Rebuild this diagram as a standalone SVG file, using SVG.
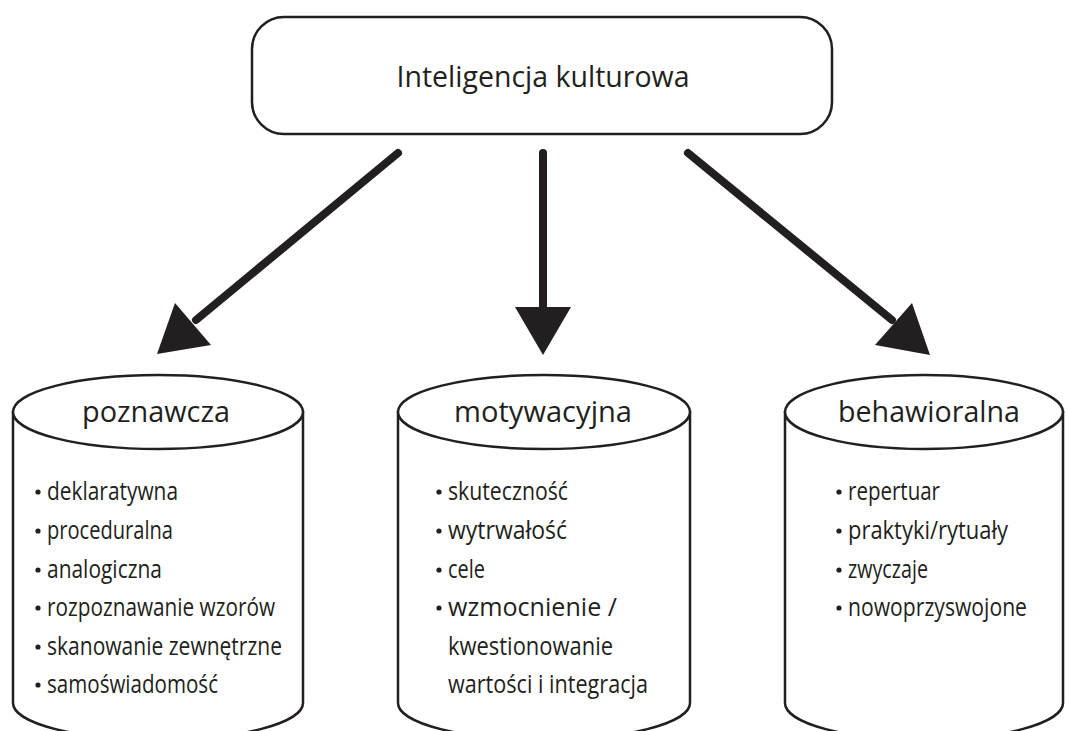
<svg xmlns="http://www.w3.org/2000/svg" width="1066" height="731" viewBox="0 0 1066 731">
  <style>
    .shape { fill: #ffffff; stroke: #231f20; stroke-width: 2.5; }
    .title { font-family: "Open Sans", "Noto Sans", "Liberation Sans", sans-serif; font-size: 30px; fill: #231f20; text-anchor: middle; }
    .item { font-family: "Open Sans", "Noto Sans", "Liberation Sans", sans-serif; font-size: 25px; fill: #231f20; }
    .dot { fill: #231f20; }
    .shaft { stroke: #231f20; stroke-width: 8; stroke-linecap: round; fill: none; }
    .head { fill: #231f20; }
  </style>
  <rect width="1066" height="731" fill="#ffffff"/>

  <!-- root box -->
  <g id="root">
    <rect class="shape" x="252" y="17" width="580" height="117" rx="32" ry="32"/>
    <text class="title" x="543" y="87" font-size="31" textLength="293" lengthAdjust="spacingAndGlyphs">Inteligencja kulturowa</text>
  </g>

  <!-- connectors -->
  <g id="connectors">
    <line class="shaft" x1="398" y1="153" x2="196" y2="320"/>
    <polygon class="head" points="157,354 175,303 211,345"/>
    <line class="shaft" x1="543" y1="153" x2="543" y2="310"/>
    <polygon class="head" points="515,307 571,307 543,355"/>
    <line class="shaft" x1="688" y1="153" x2="892" y2="320"/>
    <polygon class="head" points="912,303 875,345 930,355"/>
  </g>

  <!-- cognitive -->
  <g id="poznawcza">
    <path class="shape" d="M13,412 L13,703 A145,37 0 0 0 303,703 L303,412 Z"/>
    <ellipse class="shape" cx="158" cy="412" rx="145" ry="37"/>
    <text class="title" x="156" y="422" textLength="148" lengthAdjust="spacingAndGlyphs">poznawcza</text>
    <g class="item">
      <circle class="dot" cx="38" cy="492" r="2.6"/>
      <text x="47" y="500" textLength="131" lengthAdjust="spacingAndGlyphs">deklaratywna</text>
      <circle class="dot" cx="38" cy="531" r="2.6"/>
      <text x="47" y="539" textLength="126" lengthAdjust="spacingAndGlyphs">proceduralna</text>
      <circle class="dot" cx="38" cy="570" r="2.6"/>
      <text x="47" y="578" textLength="115" lengthAdjust="spacingAndGlyphs">analogiczna</text>
      <circle class="dot" cx="38" cy="608" r="2.6"/>
      <text x="47" y="616" textLength="228" lengthAdjust="spacingAndGlyphs">rozpoznawanie wzorów</text>
      <circle class="dot" cx="38" cy="647" r="2.6"/>
      <text x="47" y="655" textLength="235" lengthAdjust="spacingAndGlyphs">skanowanie zewnętrzne</text>
      <circle class="dot" cx="38" cy="685" r="2.6"/>
      <text x="47" y="693" textLength="171" lengthAdjust="spacingAndGlyphs">samoświadomość</text>
    </g>
  </g>

  <!-- motivational -->
  <g id="motywacyjna">
    <path class="shape" d="M398,412 L398,703 A146,37 0 0 0 690,703 L690,412 Z"/>
    <ellipse class="shape" cx="544" cy="412" rx="146" ry="37"/>
    <text class="title" x="543" y="422" textLength="178" lengthAdjust="spacingAndGlyphs">motywacyjna</text>
    <g class="item">
      <circle class="dot" cx="439" cy="492" r="2.6"/>
      <text x="448" y="500" textLength="120" lengthAdjust="spacingAndGlyphs">skuteczność</text>
      <circle class="dot" cx="439" cy="531" r="2.6"/>
      <text x="448" y="539" textLength="119" lengthAdjust="spacingAndGlyphs">wytrwałość</text>
      <circle class="dot" cx="439" cy="570" r="2.6"/>
      <text x="448" y="578" textLength="37" lengthAdjust="spacingAndGlyphs">cele</text>
      <circle class="dot" cx="439" cy="608" r="2.6"/>
      <text x="448" y="616" textLength="169" lengthAdjust="spacingAndGlyphs">wzmocnienie /</text>
      <text x="448" y="655" textLength="165" lengthAdjust="spacingAndGlyphs">kwestionowanie</text>
      <text x="448" y="693" textLength="200" lengthAdjust="spacingAndGlyphs">wartości i integracja</text>
    </g>
  </g>

  <!-- behavioural -->
  <g id="behawioralna">
    <path class="shape" d="M785,412 L785,703 A139,37 0 0 0 1063,703 L1063,412 Z"/>
    <ellipse class="shape" cx="924" cy="412" rx="139" ry="37"/>
    <text class="title" x="929" y="422" textLength="182" lengthAdjust="spacingAndGlyphs">behawioralna</text>
    <g class="item">
      <circle class="dot" cx="839" cy="492" r="2.6"/>
      <text x="848" y="500" textLength="92" lengthAdjust="spacingAndGlyphs">repertuar</text>
      <circle class="dot" cx="839" cy="531" r="2.6"/>
      <text x="848" y="539" textLength="160" lengthAdjust="spacingAndGlyphs">praktyki/rytuały</text>
      <circle class="dot" cx="839" cy="570" r="2.6"/>
      <text x="848" y="578" textLength="80" lengthAdjust="spacingAndGlyphs">zwyczaje</text>
      <circle class="dot" cx="839" cy="608" r="2.6"/>
      <text x="848" y="616" textLength="179" lengthAdjust="spacingAndGlyphs">nowoprzyswojone</text>
    </g>
  </g>
</svg>
